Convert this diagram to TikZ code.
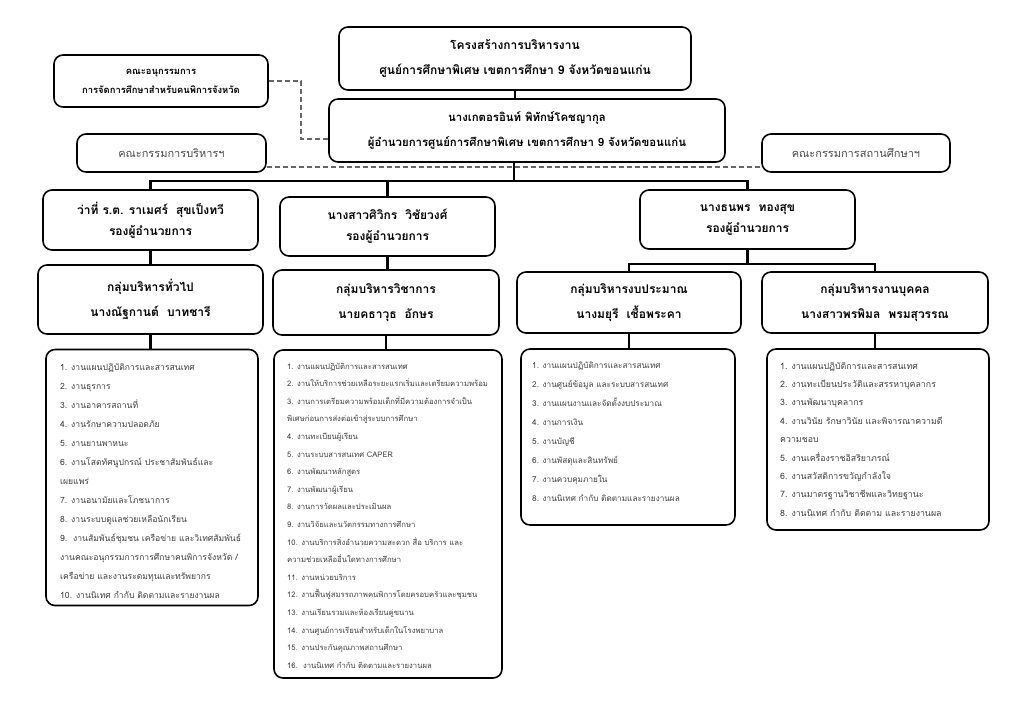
\documentclass[tikz,border=0pt]{standalone}
\usepackage{fontspec}
\newfontfamily\thai[Script=Thai]{Loma}
\begin{document}
\begin{tikzpicture}[x=1pt,y=-1pt,
  hbox/.style={draw=black, line width=1.6pt, rounded corners=9pt, align=center, inner sep=0pt, fill=white},
  htext/.style={font=\thai\bfseries\fontsize{12}{25}\selectfont},
  dtext/.style={font=\thai\bfseries\fontsize{11.4}{25}\selectfont},
  vtext/.style={font=\thai\bfseries\fontsize{12}{21}\selectfont},
  ctext/.style={font=\thai\fontsize{11}{14}\selectfont, text=black!70},
  stext/.style={font=\thai\bfseries\fontsize{9.4}{19}\selectfont},
  lbox/.style={draw=black, line width=1.6pt, rounded corners=9pt, inner sep=0pt, fill=white},
  ltext/.style={text=black!75, inner sep=0pt, anchor=base west},
  conn/.style={line width=2.2pt, black},
  dconn/.style={line width=1.2pt, black!60, dash pattern=on 5pt off 3pt}
]
\useasboundingbox (0,0) rectangle (1024,724);
\fill[white] (0,0) rectangle (1024,724);

% header boxes
\node[hbox, htext, minimum width=352pt, minimum height=63pt] (title) at (515,58.5)
  {โครงสร้างการบริหารงาน\\ศูนย์การศึกษาพิเศษ เขตการศึกษา 9 จังหวัดขอนแก่น};
\node[hbox, dtext, minimum width=396pt, minimum height=63pt] (director) at (527,130.5)
  {นางเกตอรอินท์ พิทักษ์โคชญากุล\\ผู้อำนวยการศูนย์การศึกษาพิเศษ เขตการศึกษา 9 จังหวัดขอนแก่น};
\node[hbox, stext, minimum width=214pt, minimum height=52pt] (subcom) at (161,81)
  {คณะอนุกรรมการ\\การจัดการศึกษาสำหรับคนพิการจังหวัด};
\node[hbox, ctext, minimum width=189pt, minimum height=38pt] (exec) at (171.5,153) {คณะกรรมการบริหารฯ};
\node[hbox, ctext, minimum width=188pt, minimum height=38pt] (school) at (856,153) {คณะกรรมการสถานศึกษาฯ};

% deputy directors
\node[hbox, vtext, minimum width=215pt, minimum height=60pt] (vp1) at (150.5,220)
  {ว่าที่ ร.ต. ราเมศร์\ \ สุขเป็งทวี\\รองผู้อำนวยการ};
\node[hbox, vtext, minimum width=215pt, minimum height=59pt] (vp2) at (387.5,226.5)
  {นางสาวศิวิกร\ \ วิชัยวงศ์\\รองผู้อำนวยการ};
\node[hbox, vtext, minimum width=215pt, minimum height=59pt] (vp3) at (747.5,219.5)
  {นางธนพร\ \ ทองสุข\\รองผู้อำนวยการ};

% groups
\node[hbox, htext, minimum width=225pt, minimum height=69pt] (g1) at (150.5,299.5)
  {กลุ่มบริหารทั่วไป\\นางณัฐกานต์\ \ บาทชารี};
\node[hbox, htext, minimum width=226pt, minimum height=65pt] (g2) at (386,302.5)
  {กลุ่มบริหารวิชาการ\\นายคธาวุธ\ \ อักษร};
\node[hbox, htext, minimum width=224pt, minimum height=61pt] (g3) at (629,302.5)
  {กลุ่มบริหารงบประมาณ\\นางมยุรี\ \ เชื้อพระคา};
\node[hbox, htext, minimum width=226pt, minimum height=61pt] (g4) at (875,302.5)
  {กลุ่มบริหารงานบุคคล\\นางสาวพรพิมล\ \ พรมสุวรรณ};

% list boxes
\node[lbox, minimum width=212pt, minimum height=256pt] (l1) at (152,477.5) {};
\node[lbox, minimum width=228pt, minimum height=328pt] (l2) at (388,514) {};
\node[lbox, minimum width=214pt, minimum height=176pt] (l3) at (628,437) {};
\node[lbox, minimum width=222pt, minimum height=181pt] (l4) at (878,439.5) {};

\node[ltext] (t1) at (60,370) {\thai\fontsize{8.6}{19}\selectfont\parbox[t]{300pt}{%
1. งานแผนปฏิบัติการและสารสนเทศ\\
2. งานธุรการ\\
3. งานอาคารสถานที่\\
4. งานรักษาความปลอดภัย\\
5. งานยานพาหนะ\\
6. งานโสตทัศนูปกรณ์ ประชาสัมพันธ์และ\\
เผยแพร่\\
7. งานอนามัยและโภชนาการ\\
8. งานระบบดูแลช่วยเหลือนักเรียน\\
9.\ \ งานสัมพันธ์ชุมชน เครือข่าย และวิเทศสัมพันธ์\\
งานคณะอนุกรรมการการศึกษาคนพิการจังหวัด /\\
เครือข่าย และงานระดมทุนและทรัพยากร\\
10. งานนิเทศ กำกับ ติดตามและรายงานผล}};

\node[ltext] (t2) at (287,369) {\thai\fontsize{7.7}{17.6}\selectfont\parbox[t]{300pt}{%
1. งานแผนปฏิบัติการและสารสนเทศ\\
2. งานให้บริการช่วยเหลือระยะแรกเริ่มและเตรียมความพร้อม\\
3. งานการเตรียมความพร้อมเด็กที่มีความต้องการจำเป็น\\
พิเศษก่อนการส่งต่อเข้าสู่ระบบการศึกษา\\
4. งานทะเบียนผู้เรียน\\
5. งานระบบสารสนเทศ CAPER\\
6. งานพัฒนาหลักสูตร\\
7. งานพัฒนาผู้เรียน\\
8. งานการวัดผลและประเมินผล\\
9. งานวิจัยและนวัตกรรมทางการศึกษา\\
10. งานบริการสิ่งอำนวยความสะดวก สื่อ บริการ และ\\
ความช่วยเหลืออื่นใดทางการศึกษา\\
11. งานหน่วยบริการ\\
12. งานฟื้นฟูสมรรถภาพคนพิการโดยครอบครัวและชุมชน\\
13. งานเรียนรวมและห้องเรียนคู่ขนาน\\
14. งานศูนย์การเรียนสำหรับเด็กในโรงพยาบาล\\
15. งานประกันคุณภาพสถานศึกษา\\
16.\ \ งานนิเทศ กำกับ ติดตามและรายงานผล}};

\node[ltext] (t3) at (532,368) {\thai\fontsize{8.2}{19}\selectfont\parbox[t]{300pt}{%
1. งานแผนปฏิบัติการและสารสนเทศ\\
2. งานศูนย์ข้อมูล และระบบสารสนเทศ\\
3. งานแผนงานและจัดตั้งงบประมาณ\\
4. งานการเงิน\\
5. งานบัญชี\\
6. งานพัสดุและสินทรัพย์\\
7. งานควบคุมภายใน\\
8. งานนิเทศ กำกับ ติดตามและรายงานผล}};

\node[ltext] (t4) at (780,369) {\thai\fontsize{8.8}{18.4}\selectfont\parbox[t]{300pt}{%
1. งานแผนปฏิบัติการและสารสนเทศ\\
2. งานทะเบียนประวัติและสรรหาบุคลากร\\
3. งานพัฒนาบุคลากร\\
4. งานวินัย รักษาวินัย และพิจารณาความดี\\
ความชอบ\\
5. งานเครื่องราชอิสริยาภรณ์\\
6. งานสวัสดิการขวัญกำลังใจ\\
7. งานมาตรฐานวิชาชีพและวิทยฐานะ\\
8. งานนิเทศ กำกับ ติดตาม และรายงานผล}};

% connectors
\coordinate (bar) at (514,181);
\coordinate (bar2) at (747.5,264);
\coordinate (dk) at (301,139);
\draw[conn] (title.south) -- (title.south |- director.north);
\draw[conn] (director.south -| bar) -- (bar);
\draw[conn] (vp1.north) -- (vp1.north |- bar) -- (vp3.north |- bar) -- (vp3.north);
\draw[conn] (vp2.north) -- (vp2.north |- bar);
\draw[conn] (vp1.south) -- (vp1.south |- g1.north);
\draw[conn] (vp2.south) -- (vp2.south |- g2.north);
\draw[conn] (vp3.south) -- (bar2);
\draw[conn] (g3.north) -- (g3.north |- bar2) -- (g4.north |- bar2) -- (g4.north);
\draw[conn] (g1.south) -- (g1.south |- l1.north);
\draw[conn] (g2.south) -- (g2.south |- l2.north);
\draw[conn] (g3.south) -- (g3.south |- l3.north);
\draw[conn] (g4.south) -- (g4.south |- l4.north);
\draw[dconn] (subcom.east) -| (dk) -- (dk -| director.west);
\draw[dconn] ([yshift=-14pt]exec.east) -- ([yshift=-14pt]school.west);
\end{tikzpicture}
\end{document}
